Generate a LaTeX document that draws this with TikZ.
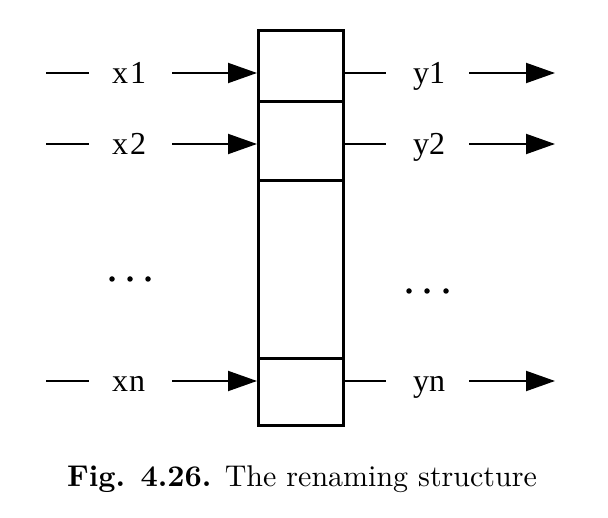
\documentclass[tikz,border=0pt]{standalone}
\usepackage{fontspec}
\newfontfamily\timesf{Liberation Serif}
\usetikzlibrary{arrows.meta}
\begin{document}
\begin{tikzpicture}[x=1pt,y=-1pt,
  cell/.style={draw,line width=2.8pt,minimum width=85pt,inner sep=0pt,anchor=north west},
  wire/.style={line width=2pt},
  arr/.style={line width=2pt,-{Triangle[length=29pt,width=20pt]}},
  lab/.style={font=\timesf\fontsize{32}{38}\selectfont,anchor=base west,inner sep=0pt},
  dot/.style={circle,fill,inner sep=0pt,minimum size=5.5pt}]
\useasboundingbox (0,0) rectangle (608,518);
% box cells
\node[cell,minimum height=71pt] (c1) at (257,29) {};
\node[cell,minimum height=79pt] (c2) at (257,100) {};
\node[cell,minimum height=178pt] (c3) at (257,179) {};
\node[cell,minimum height=67pt] (cn) at (257,357) {};
% left labels
\node[lab] (x1) at (112,84) {x\kern2pt 1};
\node[lab] (x2) at (112,155) {x\kern2pt 2};
\node[lab] (xn) at (112,392) {x\kern1pt n};
% right labels
\node[lab] (y1) at (413,84) {y1};
\node[lab] (y2) at (413,155) {y2};
\node[lab] (yn) at (413,392) {yn};
% coordinates
\foreach \r/\y in {1/73,2/144,n/381}{
  \coordinate (ds\r) at (46,\y);
  \coordinate (de\r) at (89,\y);
  \coordinate (as\r) at (172,\y);
  \coordinate (se\r) at (386,\y);
  \coordinate (bs\r) at (469,\y);
  \coordinate (be\r) at (555,\y);
}
% left dashes and arrows
\draw[wire] (ds1) -- (de1);
\draw[wire] (ds2) -- (de2);
\draw[wire] (dsn) -- (den);
\draw[arr] (as1) -- (c1.west |- as1);
\draw[arr] (as2) -- (c2.west |- as2);
\draw[arr] (asn) -- (cn.west |- asn);
% right stubs and arrows
\draw[wire] (c1.east |- se1) -- (se1);
\draw[wire] (c2.east |- se2) -- (se2);
\draw[wire] (cn.east |- sen) -- (sen);
\draw[arr] (bs1) -- (be1);
\draw[arr] (bs2) -- (be2);
\draw[arr] (bsn) -- (ben);
% dots
\node[dot] (l1) at (112,279) {};
\node[dot] (l2) at (130,279) {};
\node[dot] (l3) at (148,279) {};
\node[dot] (r1) at (409,291) {};
\node[dot] (r2) at (427,291) {};
\node[dot] (r3) at (446,291) {};
% caption
\node[font=\fontsize{10}{12}\selectfont,anchor=base,inner sep=0pt,scale=3.0,transform shape] (cap) at (302,486)
  {\textbf{Fig. 4.26.} The renaming structure};
\end{tikzpicture}
\end{document}
